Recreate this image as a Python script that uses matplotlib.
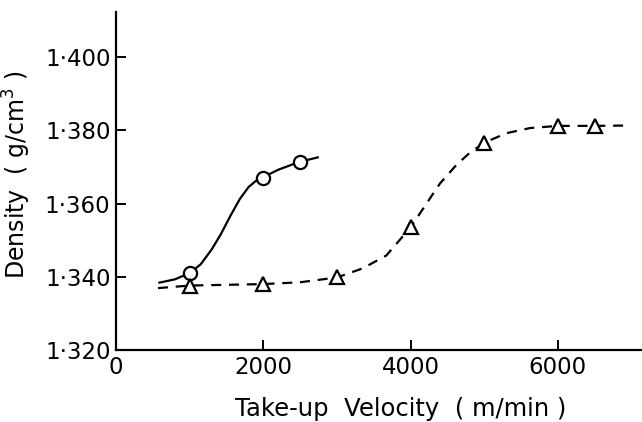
import numpy as np
import matplotlib.pyplot as plt

# measured points
circ_x = [1000, 2000, 2500]
circ_y = [1.3410, 1.3670, 1.3713]
tri_x = [1000, 2000, 3000, 4000, 5000, 6000, 6500]
tri_y = [1.3376, 1.3380, 1.3398, 1.3535, 1.3766, 1.3812, 1.3812]

# hand-drawn fit curves
solid_x = [590, 800, 1000, 1150, 1300, 1420, 1550, 1680, 1800, 1900, 2000, 2200, 2400, 2600, 2740]
solid_y = [1.3384, 1.3393, 1.3410, 1.3434, 1.3475, 1.3515, 1.3565, 1.3612, 1.3645, 1.3662, 1.3672, 1.3692, 1.3707, 1.3719, 1.3726]
dash_x = [570, 1000, 1500, 2000, 2500, 3000, 3350, 3670, 4000, 4220, 4400, 4620, 4800, 5000, 5300, 5620, 6000, 6500, 6950]
dash_y = [1.3369, 1.3376, 1.3378, 1.3380, 1.3385, 1.3398, 1.3423, 1.3458, 1.3535, 1.3601, 1.3655, 1.3705, 1.3738, 1.3766, 1.3792, 1.3806, 1.3812, 1.3812, 1.3813]

xticks = [0, 2000, 4000, 6000]
yticks = [1.320, 1.340, 1.360, 1.380, 1.400]
ytick_labels = ['1·320', '1·340', '1·360', '1·380', '1·400']

fig = plt.figure(figsize=(6.42, 4.22), dpi=100)
ax = fig.add_axes([0.1807, 0.1706, 0.8193, 0.801])

ax.plot(solid_x, solid_y, '-', color='black', lw=1.6)
ax.plot(dash_x, dash_y, '--', color='black', lw=1.6, dashes=(4.5, 3.5))
ax.plot(circ_x, circ_y, 'o', ms=9.5, mfc='white', mec='black', mew=1.6)
ax.plot(tri_x, tri_y, '^', ms=9.5, mfc='white', mec='black', mew=1.6)

ax.set_xlim(0, 7142)
ax.set_ylim(1.320, 1.4123)
ax.set_xticks(xticks)
ax.set_xticklabels([str(v) for v in xticks])
ax.set_yticks(yticks)
ax.set_yticklabels(ytick_labels)

for s in ['top', 'right']:
    ax.spines[s].set_visible(False)
for s in ['left', 'bottom']:
    ax.spines[s].set_linewidth(1.6)

ax.tick_params(direction='in', length=7, width=1.4, labelsize=16.5, pad=4)
ax.set_xlabel('Take-up  Velocity  ( m/min )', fontsize=17.5)
ax.set_ylabel('Density  ( g/cm$^3$ )', fontsize=17)
ax.xaxis.set_label_coords(0.542, -0.138)
ax.yaxis.set_label_coords(-0.158, 0.518)

fig.savefig('out.png', dpi=100)
